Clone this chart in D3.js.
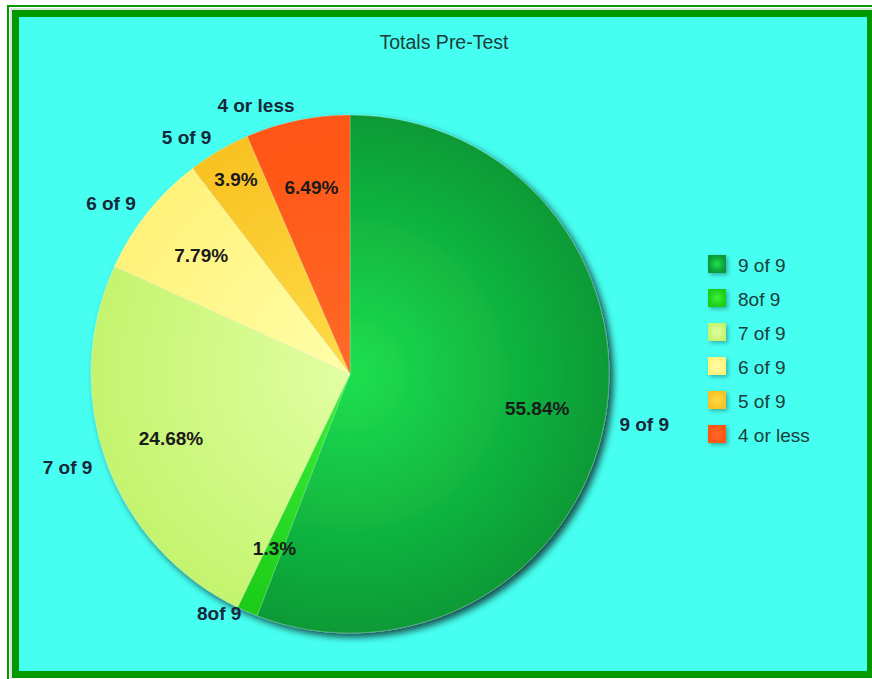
<!DOCTYPE html>
<html>
<head>
<meta charset="utf-8">
<script src="https://cdn.jsdelivr.net/npm/d3@7"></script>
<style>
body{margin:0;background:#fff;overflow:hidden;}
svg{display:block;}
text{font-family:"Liberation Sans",Arial,sans-serif;}
</style>
</head>
<body>
<script>
var w=872;
var h=679;

// chart data
var categories=["9 of 9","8of 9","7 of 9","6 of 9","5 of 9","4 or less"];
var percents=[55.84,1.3,24.68,7.79,3.9,6.49];
var innerColors=["#1ee04f","#3cf23a","#e2ffa4","#ffffaa","#ffdc48","#ff6a28"];
var outerColors=["#099a36","#1ccc18","#c4f46e","#fff27a","#f8c222","#ff5414"];

var svg=d3.select("body").append("svg")
	.attr("width",w)
	.attr("height",h);

var defs=svg.append("defs");

// frame
svg.append("rect").attr("x",8).attr("y",6).attr("width",w).attr("height",h)
	.attr("fill","none").attr("stroke","#009900").attr("stroke-width",2);
svg.append("rect").attr("x",11).attr("y",9).attr("width",w).attr("height",h)
	.attr("fill","none").attr("stroke","#b0c8b0").attr("stroke-width",1);
svg.append("rect").attr("x",12).attr("y",10).attr("width",860).attr("height",668)
	.attr("fill","#009900");
svg.append("rect").attr("x",19).attr("y",17).attr("width",848).attr("height",654)
	.attr("fill","#46fff0");

svg.append("text")
	.attr("x",444).attr("y",49)
	.attr("text-anchor","middle")
	.attr("font-size",19.5)
	.attr("fill","#1c3c3c")
	.text("Totals Pre-Test");

var cx=350, cy=374, R=259;

var shadow=defs.append("filter").attr("id","shadow")
	.attr("x","-20%").attr("y","-20%").attr("width","140%").attr("height","140%");
shadow.append("feDropShadow").attr("dx",4).attr("dy",4)
	.attr("stdDeviation",3.5).attr("flood-color","#000").attr("flood-opacity",0.7);

var legShadow=defs.append("filter").attr("id","legshadow")
	.attr("x","-50%").attr("y","-50%").attr("width","200%").attr("height","200%");
legShadow.append("feDropShadow").attr("dx",2).attr("dy",2)
	.attr("stdDeviation",2).attr("flood-color","#000").attr("flood-opacity",0.3);

categories.forEach(function(c,i){
	// slices are drawn in a group translated to the pie centre
	var g=defs.append("radialGradient").attr("id","grad"+i)
		.attr("gradientUnits","userSpaceOnUse")
		.attr("cx",0).attr("cy",0).attr("r",R);
	g.append("stop").attr("offset","0%").attr("stop-color",innerColors[i]);
	g.append("stop").attr("offset","100%").attr("stop-color",outerColors[i]);
	var lg=defs.append("radialGradient").attr("id","lgrad"+i);
	lg.append("stop").attr("offset","0%").attr("stop-color",innerColors[i]);
	lg.append("stop").attr("offset","100%").attr("stop-color",outerColors[i]);
});

var data=categories.map(function(c,i){return {name:c,value:percents[i],i:i};});

var pie=d3.pie().sort(null).value(function(d){return d.value;});
var arcs=pie(data);

var arc=d3.arc().innerRadius(0).outerRadius(R);

var chart=svg.append("g").attr("transform","translate("+cx+","+cy+")");

chart.append("g").attr("filter","url(#shadow)")
	.selectAll("path")
	.data(arcs)
	.enter().append("path")
	.attr("d",arc)
	.attr("fill",function(d){return "url(#grad"+d.data.i+")";})
	.attr("stroke","rgba(255,255,255,0.35)")
	.attr("stroke-width",0.6);

// crowded small slices get their value label moved outward
var pushOut={"5 of 9":0.87};
var pctArc=function(d){
	var k=pushOut[d.data.name]||0.735;
	return d3.arc().innerRadius(R*k).outerRadius(R*k).centroid(d);
};

chart.selectAll(".pct")
	.data(arcs)
	.enter().append("text")
	.attr("class","pct")
	.attr("transform",function(d){return "translate("+pctArc(d)+")";})
	.attr("text-anchor","middle")
	.attr("dy","0.35em")
	.attr("font-size",19)
	.attr("font-weight","bold")
	.attr("fill","#1a1a1a")
	.text(function(d){return d.data.value+"%";});

var outer=d3.arc().innerRadius(R+15).outerRadius(R+15);
chart.selectAll(".lbl")
	.data(arcs)
	.enter().append("text")
	.attr("class","lbl")
	.attr("transform",function(d){
		var p=outer.centroid(d);
		// labels near the bottom sit a little higher
		if(p[1]>R*0.9) p[1]-=12;
		return "translate("+p+")";
	})
	.attr("text-anchor",function(d){
		var a=(d.startAngle+d.endAngle)/2;
		return a<Math.PI?"start":"end";
	})
	.attr("dy","0.35em")
	.attr("font-size",19)
	.attr("font-weight","bold")
	.attr("fill","#16283a")
	.text(function(d){return d.data.name;});

// legend
var legend=svg.append("g").attr("transform","translate(708,255)");
var row=legend.selectAll("g")
	.data(data)
	.enter().append("g")
	.attr("transform",function(d,i){return "translate(0,"+(i*34)+")";});
row.append("rect")
	.attr("width",18).attr("height",18)
	.attr("fill",function(d){return "url(#lgrad"+d.i+")";})
	.attr("filter","url(#legshadow)");
row.append("text")
	.attr("x",30).attr("y",10)
	.attr("dy","0.35em")
	.attr("font-size",19)
	.attr("fill","#1c3c3c")
	.text(function(d){return d.name;});
</script>
</body>
</html>
